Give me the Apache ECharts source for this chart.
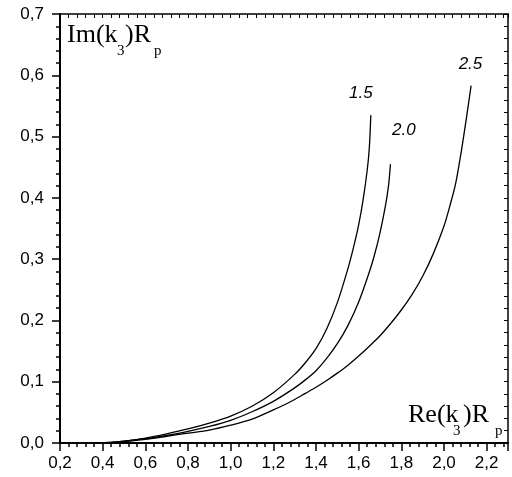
<!DOCTYPE html>
<html><head><meta charset="utf-8">
<script src="https://cdn.jsdelivr.net/npm/echarts@6/dist/echarts.min.js"></script>
<style>html,body{margin:0;padding:0;background:#fff}#c{width:512px;height:477px}</style>
</head><body><div id="c"></div>
<script>
// Curve data: [Re(k3)Rp, Im(k3)Rp]
const curve15 = [[0.387,0],[0.45,0.0013],[0.5,0.003],[0.6,0.008],[0.7,0.015],[0.8,0.023],[0.9,0.0325],[1.0,0.044],[1.1,0.060],[1.2,0.082],[1.3,0.112],[1.35,0.131],[1.4,0.154],[1.45,0.186],[1.5,0.229],[1.55,0.285],[1.575,0.318],[1.6,0.356],[1.62,0.395],[1.64,0.445],[1.65,0.482],[1.657,0.535]];
const curve20 = [[0.387,0],[0.45,0.0012],[0.5,0.003],[0.6,0.007],[0.7,0.0125],[0.8,0.019],[0.9,0.027],[1.0,0.037],[1.1,0.051],[1.2,0.068],[1.3,0.090],[1.35,0.103],[1.4,0.118],[1.45,0.138],[1.5,0.162],[1.55,0.192],[1.6,0.230],[1.65,0.279],[1.675,0.308],[1.7,0.343],[1.725,0.386],[1.74,0.420],[1.749,0.455]];
const curve25 = [[0.387,0],[0.45,0.0009],[0.5,0.002],[0.6,0.006],[0.7,0.011],[0.8,0.016],[0.9,0.021],[1.0,0.029],[1.1,0.039],[1.2,0.054],[1.25,0.062],[1.3,0.071],[1.35,0.081],[1.4,0.091],[1.45,0.102],[1.5,0.114],[1.55,0.127],[1.6,0.142],[1.65,0.158],[1.7,0.175],[1.75,0.195],[1.8,0.217],[1.85,0.242],[1.9,0.272],[1.95,0.309],[2.0,0.354],[2.03,0.390],[2.055,0.424],[2.083,0.480],[2.105,0.530],[2.127,0.583]];
const curveNames = ['1.5','2.0','2.5'];
const curveLabelPos = [[1.61,0.571],[1.812,0.510],[2.124,0.618]];
const xMin = 0.2, xMax = 2.3, xStep = 0.2;
const yMin = 0, yMax = 0.7, yStep = 0.1;

const fmt = v => v.toFixed(1).replace('.', ',');
const lineC = '#000';
const chart = echarts.init(document.getElementById('c'));
const serif = 'Liberation Serif';
const sans = 'Liberation Sans';
const txt = (t, x, y, size) => ({type:'text', left:x, top:y, style:{text:t, font: size+'px "'+serif+'"', fill:'#000'}});

chart.setOption({
  animation:false,
  backgroundColor:'#fff',
  grid:{left:60, right:4, top:14, bottom:34},
  xAxis:[
    {type:'value', position:'bottom', min:xMin, max:xMax, interval:xStep,
     axisLine:{lineStyle:{color:lineC,width:2}},
     axisTick:{length:8, lineStyle:{color:lineC,width:1.5}},
     axisLabel:{formatter:v=> (v > 2.25 ? '' : fmt(v)), fontFamily:sans, fontSize:17, color:'#000', margin:12},
     splitLine:{show:false}},
    {type:'value', position:'bottom', min:xMin, max:xMax, interval:0.04,
     axisLine:{show:false}, axisTick:{length:4, lineStyle:{color:lineC,width:1.5}},
     axisLabel:{show:false}, splitLine:{show:false}},
    {type:'value', position:'top', min:xMin, max:xMax, interval:0.04,
     axisLine:{lineStyle:{color:lineC,width:1.5}}, axisTick:{inside:true,length:4, lineStyle:{color:lineC,width:1}},
     axisLabel:{show:false}, splitLine:{show:false}}
  ],
  yAxis:[
    {type:'value', position:'left', min:yMin, max:yMax, interval:yStep,
     axisLine:{lineStyle:{color:lineC,width:2}},
     axisTick:{length:8, lineStyle:{color:lineC,width:1.5}},
     minorTick:{show:true, splitNumber:5, length:4, lineStyle:{color:lineC,width:1.5}},
     axisLabel:{formatter:fmt, fontFamily:sans, fontSize:17, color:'#000', margin:16},
     splitLine:{show:false}, minorSplitLine:{show:false}},
    {type:'value', position:'right', min:yMin, max:yMax, interval:yStep,
     axisLine:{lineStyle:{color:lineC,width:1.5}},
     axisTick:{inside:true, length:4, lineStyle:{color:lineC,width:1}},
     minorTick:{show:true, splitNumber:5, length:4, lineStyle:{color:lineC,width:1}},
     axisLabel:{show:false}, splitLine:{show:false}, minorSplitLine:{show:false}}
  ],
  series:[
    ...[curve15, curve20, curve25].map((d,i)=>({
      type:'line', name:curveNames[i], data:d, showSymbol:false, smooth:0.3,
      xAxisIndex:0, yAxisIndex:0,
      lineStyle:{color:'#000', width:1.3}
    })),
    {type:'scatter', xAxisIndex:0, yAxisIndex:0, symbolSize:0, itemStyle:{opacity:1},
     data: curveLabelPos.map((p,i)=>({value:p, name:curveNames[i]})),
     label:{show:true, position:'inside', formatter:p=>p.name, fontFamily:sans, fontStyle:'italic', fontSize:17, color:'#000', textBorderWidth:0}}
  ],
  graphic:[
    txt('Im(k', 67, 22, 26), txt('3', 117, 44, 15), txt(')R', 125, 22, 26), txt('p', 154, 44, 15),
    txt('Re(k', 408, 402, 26), txt('3', 453, 424, 15), txt(')R', 463, 402, 26), txt('p', 495, 424, 15)
  ]
});
</script></body></html>
